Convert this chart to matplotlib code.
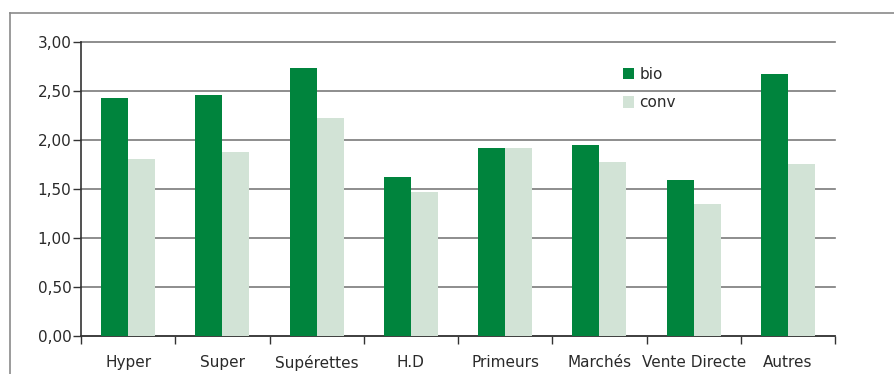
import numpy as np
import matplotlib
matplotlib.use('Agg')
import matplotlib.pyplot as plt
from matplotlib.lines import Line2D
from matplotlib.ticker import FuncFormatter, FixedLocator

# Prix moyens par circuit de distribution
circuits = ['Hyper', 'Super', 'Supérettes', 'H.D', 'Primeurs',
            'Marchés', 'Vente Directe', 'Autres']
bio = [2.43, 2.46, 2.73, 1.62, 1.92, 1.95, 1.59, 2.67]
conv = [1.81, 1.88, 2.22, 1.47, 1.92, 1.78, 1.35, 1.76]

col_bio = '#00843d'
col_conv = '#d2e3d6'

plt.rcParams['font.family'] = ['DejaVu Sans']

fig = plt.figure(figsize=(8.95, 3.74), dpi=100)
ax = fig.add_axes([0.0905, 0.1016, 0.8425, 0.786])

x = np.arange(len(circuits))
w = 0.287
ax.bar(x - w / 2, bio, w, color=col_bio, label='bio', zorder=3)
ax.bar(x + w / 2, conv, w, color=col_conv, label='conv', zorder=3)

ax.set_xlim(-0.5, len(circuits) - 0.5)
ax.set_ylim(0, 3)
ax.set_yticks(np.arange(0, 3.01, 0.5))
ax.yaxis.set_major_formatter(FuncFormatter(lambda v, p: f'{v:.2f}'.replace('.', ',')))
ax.yaxis.grid(True, color='#7a7a7a', linewidth=1.2, zorder=0)
for gl in ax.get_ygridlines():
    gl.set_clip_on(False)

ax.set_xticks(x)
ax.set_xticklabels(circuits, fontsize=11, color='#2a2a2a')
ax.tick_params(axis='x', which='major', length=0, pad=14)
ax.xaxis.set_minor_locator(FixedLocator(np.arange(-0.5, len(circuits), 1.0)))
ax.tick_params(axis='x', which='minor', length=6, width=1, color='#333333', direction='out')
ax.tick_params(axis='y', length=6, width=1, color='#333333', labelsize=11,
               labelcolor='#2a2a2a', pad=1)

for s in ['top', 'right']:
    ax.spines[s].set_visible(False)
for s in ['left', 'bottom']:
    ax.spines[s].set_color('#333333')
    ax.spines[s].set_linewidth(1.2)

ax.legend(loc='upper left', bbox_to_anchor=(0.70, 0.962), frameon=False,
          handlelength=0.75, handleheight=0.75, handletextpad=0.35,
          labelspacing=0.88, fontsize=11, labelcolor='#2a2a2a')

# cadre extérieur
fig.add_artist(Line2D([10 / 895, 1.0], [1 - 13 / 374, 1 - 13 / 374],
                      transform=fig.transFigure, color='#8a8a8a', linewidth=1.2))
fig.add_artist(Line2D([10 / 895, 10 / 895], [1 - 13 / 374, 0],
                      transform=fig.transFigure, color='#8a8a8a', linewidth=1.2))

fig.savefig('out.png', dpi=100)
